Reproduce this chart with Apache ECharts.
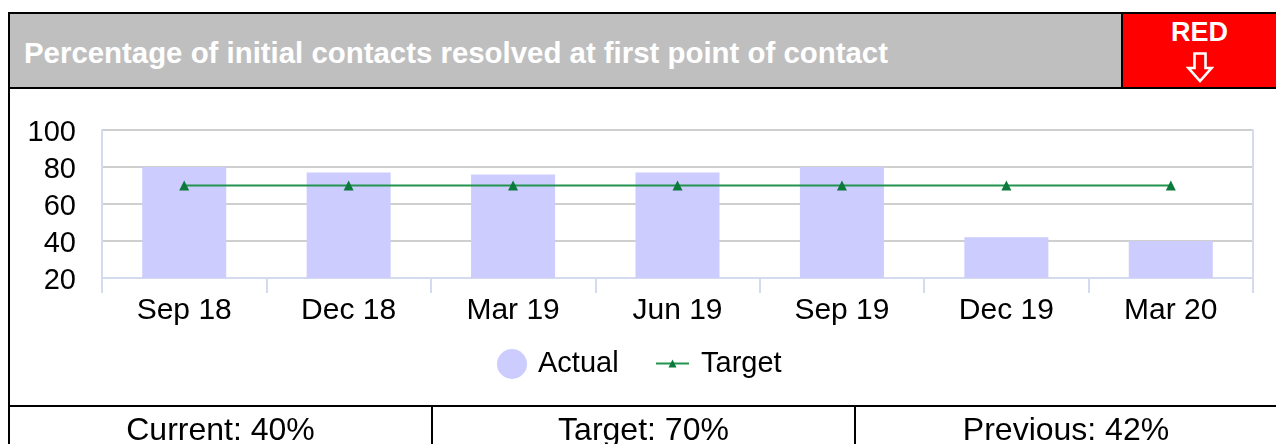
<!DOCTYPE html>
<html>
<head>
<meta charset="utf-8">
<script src="https://cdn.jsdelivr.net/npm/echarts@6/dist/echarts.min.js"></script>
<style>
  html, body { margin: 0; padding: 0; background: #fff; }
  body { width: 1276px; height: 444px; position: relative; overflow: hidden;
         font-family: "Liberation Sans", Arial, sans-serif; }
  #chart { position: absolute; left: 0; top: 0; width: 1276px; height: 444px; }
  .abs { position: absolute; box-sizing: border-box; }
  #head { left: 8px; top: 12px; width: 1268px; height: 77px; background: #bfbfbf;
          border-top: 2px solid #000; border-left: 2px solid #000; border-bottom: 2px solid #000; }
  #title { left: 24px; top: 38px; font-size: 29.4px; line-height: 29px; font-weight: bold; color: #fff; white-space: nowrap; }
  #flag { left: 1121px; top: 14px; width: 155px; height: 73px; background: #ff0000; border-left: 2px solid #000; }
  #flagText { left: 1121px; top: 19px; width: 157px; text-align: center; font-size: 27px; line-height: 27px; font-weight: bold; color: #fff; }
  #flagArrow { left: 1186px; top: 52px; width: 28px; height: 31px; }
  #leftEdge { left: 8px; top: 89px; width: 2px; height: 355px; background: #000; }
  #foot { left: 8px; top: 405px; width: 1268px; height: 2px; background: #000; }
  .div { top: 407px; width: 2px; height: 37px; background: #000; }
  .stat { top: 413px; font-size: 32px; line-height: 32px; color: #000; text-align: center; white-space: nowrap; }
</style>
</head>
<body>
<div id="chart"></div>
<div id="head" class="abs"></div>
<div id="title" class="abs">Percentage of initial contacts resolved at first point of contact</div>
<div id="flag" class="abs"></div>
<div id="flagText" class="abs">RED</div>
<svg id="flagArrow" class="abs" viewBox="0 0 28 31">
  <!-- hollow downward arrow -->
  <polygon points="8.5,1.5 19.5,1.5 19.5,16 25.5,16 14,29 2.5,16 8.5,16"
           fill="none" stroke="#fff" stroke-width="2.6" stroke-linejoin="miter"/>
</svg>
<div id="leftEdge" class="abs"></div>
<div id="foot" class="abs"></div>
<div class="abs div" style="left:431px"></div>
<div class="abs div" style="left:854px"></div>
<div id="statCurrent" class="abs stat" style="left:10px;width:421px"></div>
<div id="statTarget" class="abs stat" style="left:433px;width:421px"></div>
<div id="statPrevious" class="abs stat" style="left:856px;width:420px"></div>
<script>
// Quarter labels and measured values (%)
const categories = ['Sep 18', 'Dec 18', 'Mar 19', 'Jun 19', 'Sep 19', 'Dec 19', 'Mar 20'];
const actual = [80, 77, 76, 77, 80, 42, 40];
const target = [70, 70, 70, 70, 70, 70, 70];
const yMin = 20, yMax = 100, yStep = 20;

// Summary row under the chart
const last = actual.length - 1;
document.getElementById('statCurrent').textContent = 'Current: ' + actual[last] + '%';
document.getElementById('statTarget').textContent = 'Target: ' + target[last] + '%';
document.getElementById('statPrevious').textContent = 'Previous: ' + actual[last - 1] + '%';

const FONT = '"Liberation Sans", Arial, sans-serif';
const axisBlue = '#d5dbef';

const chart = echarts.init(document.getElementById('chart'), null, { renderer: 'canvas' });
chart.setOption({
  animation: false,
  backgroundColor: 'transparent',
  grid: { left: 102, right: 23, top: 130, bottom: 166, containLabel: false },
  legend: [
    {
      data: ['Actual'], left: 497, top: 349, padding: 0, icon: 'circle',
      itemWidth: 30, itemHeight: 30,
      textStyle: { fontFamily: FONT, fontSize: 29, color: '#000', padding: [0, 0, 0, 6] }
    },
    {
      data: ['Target'], left: 655, top: 349, padding: 0,
      itemWidth: 33, itemHeight: 10,
      textStyle: { fontFamily: FONT, fontSize: 29, color: '#000', padding: [0, 0, 0, 7] }
    }
  ],
  xAxis: {
    type: 'category',
    data: categories,
    boundaryGap: true,
    axisLine: { lineStyle: { color: axisBlue, width: 2 } },
    axisTick: { show: true, interval: 0, length: 15, lineStyle: { color: axisBlue, width: 2 } },
    axisLabel: { fontFamily: FONT, fontSize: 30, color: '#000', margin: 18, interval: 0 }
  },
  yAxis: [
    {
      type: 'value', min: yMin, max: yMax, interval: yStep,
      axisLine: { show: true, lineStyle: { color: axisBlue, width: 2 } },
      axisTick: { show: false },
      axisLabel: { fontFamily: FONT, fontSize: 29, color: '#000', margin: 26,
                   verticalAlign: 'top', lineHeight: 6 },
      splitLine: { show: true, lineStyle: { color: '#cfcfcf', width: 2 } }
    },
    {
      type: 'value', min: yMin, max: yMax, interval: yStep, position: 'right',
      axisLine: { show: true, lineStyle: { color: axisBlue, width: 2 } },
      axisTick: { show: false }, axisLabel: { show: false }, splitLine: { show: false }
    }
  ],
  series: [
    {
      name: 'Actual', type: 'bar', data: actual, barWidth: 84,
      itemStyle: { color: '#ccccff' }
    },
    {
      name: 'Target', type: 'line', data: target,
      symbol: 'triangle', symbolSize: 10,
      lineStyle: { color: '#23944f', width: 2 },
      itemStyle: { color: '#0b7a3b' }
    }
  ]
});
</script>
</body>
</html>
